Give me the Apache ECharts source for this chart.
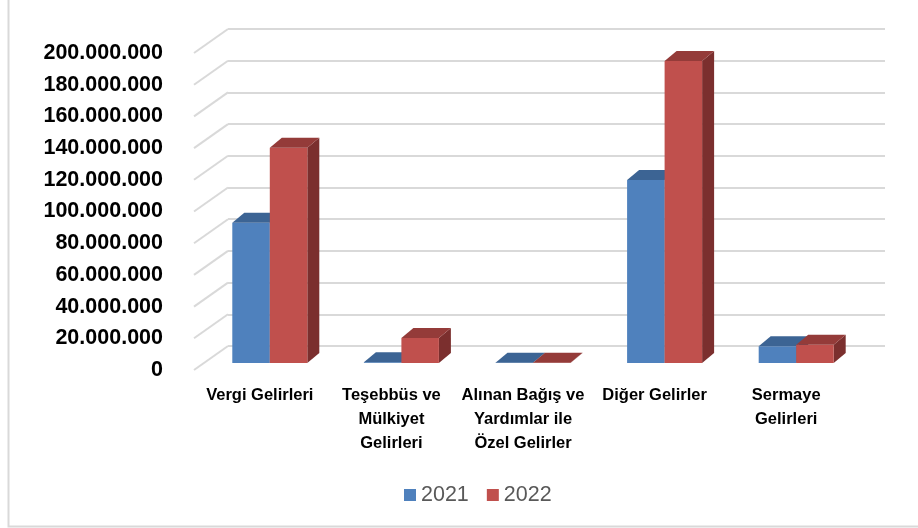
<!DOCTYPE html>
<html>
<head>
<meta charset="utf-8">
<script src="https://cdn.jsdelivr.net/npm/echarts@6/dist/echarts.min.js"></script>
<style>
html,body{margin:0;padding:0;background:#fff;}
#main{width:918px;height:528px;}
</style>
</head>
<body>
<div id="main"></div>
<script>
// ---- data ----
var categories = ['Vergi Gelirleri', 'Teşebbüs ve\nMülkiyet\nGelirleri', 'Alınan Bağış ve\nYardımlar ile\nÖzel Gelirler', 'Diğer Gelirler', 'Sermaye\nGelirleri'];
var seriesNames = ['2021', '2022'];
var values2021 = [88500000, 400000, 150000, 115500000, 10500000];
var values2022 = [135800000, 15800000, 150000, 190600000, 11500000];
var yTickValues = [0, 20000000, 40000000, 60000000, 80000000, 100000000, 120000000, 140000000, 160000000, 180000000, 200000000];
var yTickLabels = ['0', '20.000.000', '40.000.000', '60.000.000', '80.000.000', '100.000.000', '120.000.000', '140.000.000', '160.000.000', '180.000.000', '200.000.000'];

// ---- styles ----
var FONT = 'Liberation Sans';
var WALL_DX = 34, WALL_DY = -24;   // floor front -> back wall depth
var BAR_DX = 12, BAR_DY = -10;     // bar depth
var colors = {
  '2021': {front: '#4f81bd', top: '#3c6494', side: '#2f4f78'},
  '2022': {front: '#c0504d', top: '#943b39', side: '#7b2f2e'}
};

function barRenderer(name, idx) {
  var c = colors[name];
  return function (params, api) {
    var i = api.value(0), v = api.value(1);
    var base = api.coord([i, 0]);
    var topPt = api.coord([i, v]);
    var band = api.size([1, 0])[0];
    var w = band * 0.285;
    var xL = idx === 0 ? base[0] - w : base[0];
    var xR = xL + w;
    var y0 = base[1], y1 = topPt[1];
    return {
      type: 'group',
      children: [
        {type: 'polygon', shape: {points: [[xR, y1], [xR + BAR_DX, y1 + BAR_DY], [xR + BAR_DX, y0 + BAR_DY], [xR, y0]]}, style: {fill: c.side}},
        {type: 'rect', shape: {x: xL, y: y1, width: w, height: y0 - y1}, style: {fill: c.front}},
        {type: 'polygon', shape: {points: [[xL, y1], [xL + BAR_DX, y1 + BAR_DY], [xR + BAR_DX, y1 + BAR_DY], [xR, y1]]}, style: {fill: c.top}}
      ]
    };
  };
}

var chart = echarts.init(document.getElementById('main'), null, {renderer: 'canvas'});
var option = {
  backgroundColor: '#ffffff',
  animation: false,
  graphic: [{
    type: 'rect', z: -10,
    shape: {x: 8.5, y: -5, width: 1000, height: 531.5},
    style: {fill: 'none', stroke: '#d9d9d9', lineWidth: 2}
  }],
  legend: {
    data: seriesNames,
    left: 399, top: 479,
    icon: 'rect', itemWidth: 12, itemHeight: 12, itemGap: 18,
    textStyle: {fontFamily: FONT, fontSize: 21.5, color: '#595959'}
  },
  grid: [
    {left: 228, right: 33, top: 29, bottom: 182},   // back wall
    {left: 204, right: 56, top: 46, bottom: 165},   // bar plane
    {left: 194, right: 66, top: 53, bottom: 158}    // front floor plane
  ],
  xAxis: [
    {gridIndex: 0, type: 'category', data: categories, show: false},
    {gridIndex: 1, type: 'category', data: categories, show: false},
    {gridIndex: 2, type: 'category', data: categories,
      axisLine: {show: false}, axisTick: {show: false},
      axisLabel: {interval: 0, margin: 13, fontFamily: FONT, fontSize: 16.5, fontWeight: 'bold', color: '#000', lineHeight: 24}}
  ],
  yAxis: [
    {gridIndex: 0, type: 'value', min: 0, max: 200000000, interval: 20000000,
      axisLine: {show: false}, axisTick: {show: false}, axisLabel: {show: false},
      splitLine: {show: true, lineStyle: {color: '#d9d9d9', width: 2}}},
    {gridIndex: 1, type: 'value', min: 0, max: 200000000, interval: 20000000, show: false, splitLine: {show: false}},
    {gridIndex: 2, type: 'value', min: 0, max: 200000000, interval: 20000000,
      axisLine: {show: false}, axisTick: {show: false}, splitLine: {show: false},
      axisLabel: {margin: 31, padding: [6, 0, 0, 0], fontFamily: FONT, fontSize: 21.5, fontWeight: 'bold', color: '#000',
        formatter: function (v) { var k = yTickValues.indexOf(v); return k >= 0 ? yTickLabels[k] : ''; }}}
  ],
  series: [
    {
      type: 'custom', name: 'sidewall', xAxisIndex: 2, yAxisIndex: 2, silent: true, z: 1,
      data: yTickValues.map(function (v) { return [0, v]; }),
      renderItem: function (params, api) {
        var y = api.coord([0, api.value(1)])[1];
        var x0 = params.coordSys.x;
        return {type: 'line', shape: {x1: x0, y1: y, x2: x0 + WALL_DX, y2: y + WALL_DY},
          style: {stroke: '#d9d9d9', lineWidth: 2}};
      }
    },
    {
      type: 'custom', name: '2021', xAxisIndex: 1, yAxisIndex: 1, z: 3,
      itemStyle: {color: colors['2021'].front},
      data: values2021.map(function (v, i) { return [i, v]; }),
      renderItem: barRenderer('2021', 0)
    },
    {
      type: 'custom', name: '2022', xAxisIndex: 1, yAxisIndex: 1, z: 4,
      itemStyle: {color: colors['2022'].front},
      data: values2022.map(function (v, i) { return [i, v]; }),
      renderItem: barRenderer('2022', 1)
    }
  ]
};
chart.setOption(option);
</script>
</body>
</html>
